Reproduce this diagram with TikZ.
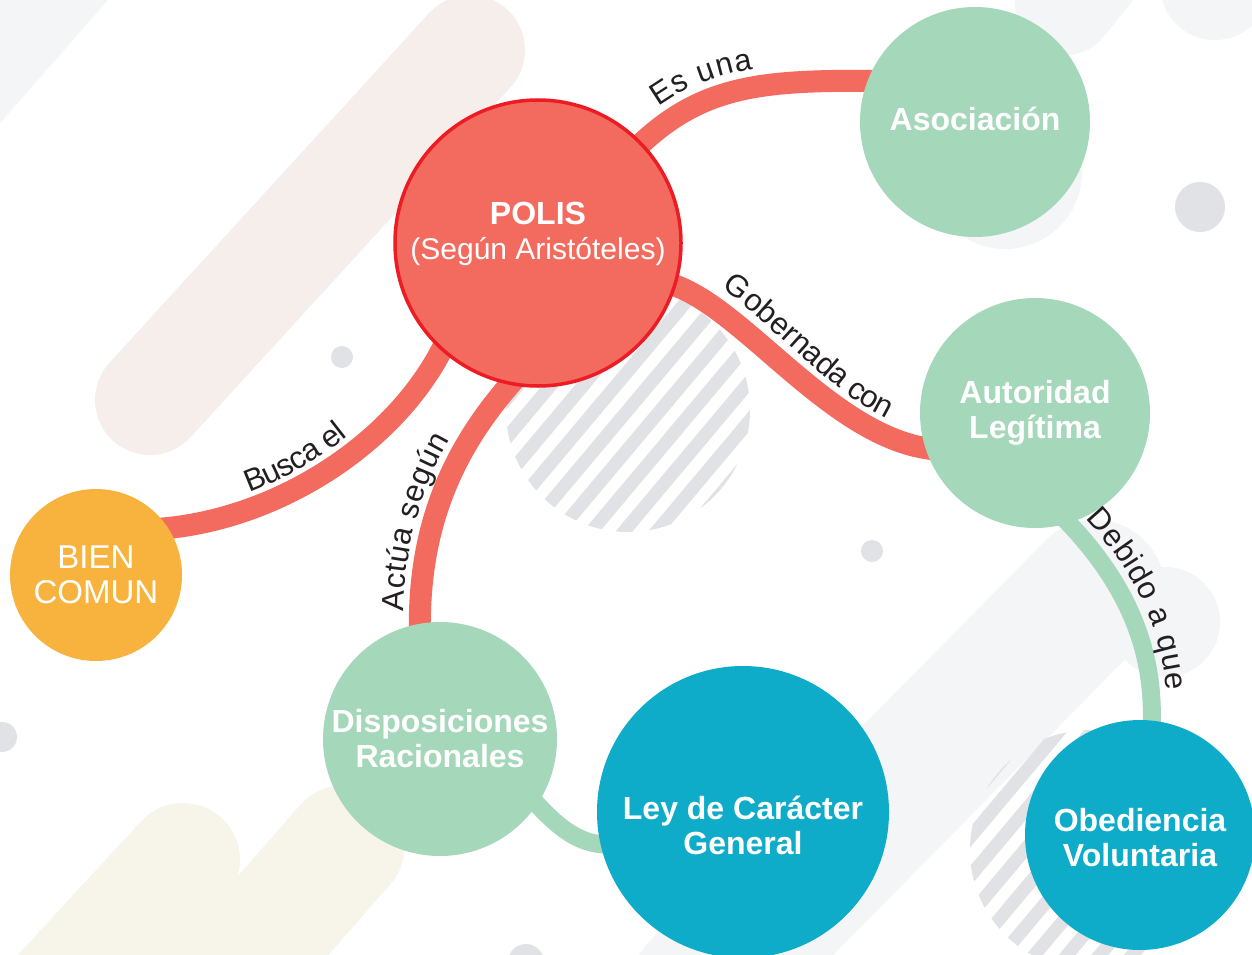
\documentclass[tikz,border=0pt]{standalone}
\usepackage{fontspec}
\setmainfont{Liberation Sans}
\usetikzlibrary{decorations.text,calc}
\definecolor{polisred}{HTML}{F26B5E}
\definecolor{polisborder}{HTML}{ED1C24}
\definecolor{mint}{HTML}{A5D7BA}
\definecolor{tealc}{HTML}{0EACC9}
\definecolor{amber}{HTML}{F8B33F}
\definecolor{dotgray}{HTML}{E1E2E6}
\definecolor{faintgray}{HTML}{F4F5F6}
\definecolor{beige}{HTML}{F5EEEA}
\definecolor{cream}{HTML}{F7F4EA}
\definecolor{labelc}{HTML}{231F20}
\pgfdeclarelayer{bg}
\pgfdeclarelayer{conn}
\pgfsetlayers{bg,conn,main}
\newcommand\labfont{\fontsize{31}{34}\selectfont}
\newcommand\bubfont{\fontsize{32}{35}\selectfont}
\newcommand\shiftln[2]{\raisebox{#1}[\height][\depth]{#2}}
\tikzset{
  bubble/.style={circle, inner sep=0pt, outer sep=0pt, text=white, align=center, font=\bubfont\bfseries},
  redlink/.style={draw=polisred, line width=22pt},
  greenlink/.style={draw=mint, line width=18pt},
  linklab/.style 2 args={decorate, decoration={text along path, text={|\labfont|#1}, text color=labelc, raise=#2}},
  stripe/.style={draw=dotgray, line width=13pt},
  dot/.style={fill=dotgray},
}
\begin{document}
\begin{tikzpicture}[x=1pt,y=-1pt]
\useasboundingbox (0,0) rectangle (1252,955);
\clip (0,0) rectangle (1252,955);

% ---------- background ----------
\begin{pgfonlayer}{bg}
\fill[white] (0,0) rectangle (1252,955);
\fill[faintgray] (0,0) -- (108,0) -- (0,123) -- cycle;
\draw[beige, line width=110pt, line cap=round] (150,400) -- (470,50);
\draw[cream, line width=114pt, line cap=round] (183,860) -- (40,1015);
\draw[cream, line width=120pt, line cap=round] (345,845) -- (200,1010);
\draw[faintgray, line width=140pt, line cap=round] (1095,590) -- (700,990);
\fill[faintgray] (1165,622) circle[radius=55pt];
\fill[faintgray] (1215,-15) circle[radius=55pt];
\fill[faintgray] (1005,172) circle[radius=77pt];
\draw[faintgray, line width=100pt, line cap=round] (1065,5) -- (1150,-100);
\begin{scope}
  \clip (628,410) circle[radius=122pt];
  \foreach \i in {-7,...,7}
    \draw[stripe] ({628+\i*19.15-115},{410+\i*16.07+137}) -- ({628+\i*19.15+115},{410+\i*16.07-137});
\end{scope}
\begin{scope}
  \clip (1090,850) circle[radius=120pt];
  \foreach \i in {-7,...,7}
    \draw[stripe] ({1090+\i*19.15-115},{850+\i*16.07+137}) -- ({1090+\i*19.15+115},{850+\i*16.07-137});
\end{scope}
\fill[dot] (1200,207) circle[radius=25pt];
\fill[dot] (342,357) circle[radius=11pt];
\fill[dot] (872,551) circle[radius=11pt];
\fill[dot] (2,737) circle[radius=15pt];
\fill[dot] (526,962) circle[radius=18pt];
\end{pgfonlayer}

% ---------- nodes ----------
\node[bubble, fill=polisred, draw=polisborder, line width=3.5pt, minimum size=286pt] (polis) at (538,243)
  {\shiftln{9pt}{POLIS}\\\mdseries\fontsize{30}{35}\selectfont\shiftln{9pt}{(Según Aristóteles)}};
\node[bubble, fill=mint, minimum size=230pt] (asoc) at (975,122) {\shiftln{3pt}{Asociación}};
\node[bubble, fill=mint, minimum size=230pt] (auto) at (1035,413) {Autoridad\\Legítima};
\node[bubble, fill=amber, minimum size=172pt, font=\fontsize{33}{35}\selectfont\mdseries] (bien) at (96,575) {BIEN\\COMUN};
\node[bubble, fill=mint, minimum size=234pt] (disp) at (440,739) {Disposiciones\\Racionales};
\node[bubble, fill=tealc, minimum size=292pt] (ley) at (743,812)
  {\shiftln{-13pt}{Ley de Carácter}\\\shiftln{-13pt}{General}};
\node[bubble, fill=tealc, minimum size=230pt] (obed) at (1140,835)
  {\shiftln{-3pt}{Obediencia}\\\shiftln{-3pt}{Voluntaria}};

% ---------- connectors ----------
\begin{pgfonlayer}{conn}
\draw[redlink, shorten <=-10pt, shorten >=-10pt] (polis.44) .. controls (700,85) and (760,80) .. (asoc.159);
\draw[redlink, shorten <=-10pt, shorten >=-10pt] (polis.-17) .. controls (740,300) and (830,440) .. (auto.198);
\draw[redlink, shorten <=-10pt, shorten >=-10pt] (bien.33) .. controls (280,520) and (400,440) .. (polis.228);
\draw[redlink, shorten <=-10pt, shorten >=-10pt] (disp.100) .. controls (418,530) and (450,450) .. (polis.259);
\draw[greenlink, shorten <=-10pt, shorten >=-10pt] (auto.-73) .. controls (1135,590) and (1155,660) .. (obed.84);
\draw[greenlink, shorten <=-10pt, shorten >=-10pt] (disp.-34) .. controls (560,830) and (580,845) .. (ley.193);
\end{pgfonlayer}

% ---------- connector labels ----------
\path[linklab={Es una}{17pt}, decoration={text align={left indent=35pt}}] (polis.44) .. controls (700,85) and (760,80) .. (asoc.159);
\path[linklab={Gobernada con}{18pt}, decoration={text align={left indent=40pt}}] (polis.-17) .. controls (740,300) and (830,440) .. (auto.198);
\path[linklab={Busca el}{17pt}, decoration={text align={left indent=90pt}}] (bien.33) .. controls (280,520) and (400,440) .. (polis.228);
\path[linklab={Actúa según}{16pt}, decoration={text align={left indent=12pt}}] (disp.100) .. controls (418,530) and (450,450) .. (polis.259);
\path[linklab={Debido a que}{15pt}, decoration={text align={left indent=8pt}}] (auto.-73) .. controls (1135,590) and (1155,660) .. (obed.84);
\end{tikzpicture}
\end{document}
